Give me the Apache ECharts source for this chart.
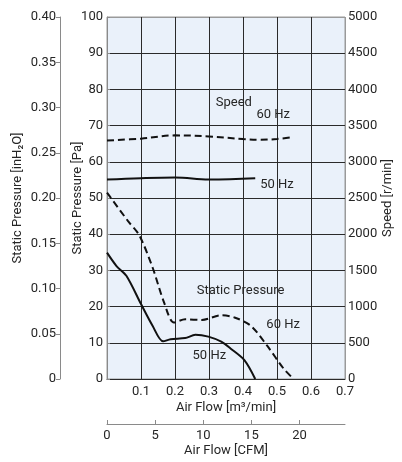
<!DOCTYPE html>
<html>
<head>
<meta charset="utf-8">
<script src="https://cdn.jsdelivr.net/npm/echarts@6/dist/echarts.min.js"></script>
<style>
html,body{margin:0;padding:0;background:#fff;}
#c{width:402px;height:462px;}
</style>
</head>
<body>
<div id="c"></div>
<script>
// Air flow in m³/min
var spd60X = [0, 0.1, 0.2, 0.3, 0.4, 0.45, 0.5, 0.545];
var spd60Y = [3295, 3320, 3365, 3350, 3315, 3305, 3315, 3340];
var spd50X = [0, 0.1, 0.2, 0.3, 0.436];
var spd50Y = [2755, 2773, 2782, 2755, 2773];
var sp60X = [0, 0.062, 0.095, 0.134, 0.168, 0.197, 0.23, 0.279, 0.336, 0.375, 0.423, 0.471, 0.52, 0.549];
var sp60Y = [51.5, 43.6, 39.7, 30.8, 21.1, 15.6, 16.5, 16.3, 17.6, 17.0, 14.7, 9.2, 2.8, 0];
var sp50X = [0, 0.028, 0.057, 0.1, 0.134, 0.165, 0.187, 0.23, 0.26, 0.298, 0.336, 0.365, 0.404, 0.436];
var sp50Y = [34.9, 31.2, 28.5, 20.7, 14.7, 10.4, 11.0, 11.3, 12.2, 11.7, 10.3, 8.3, 5.2, 0];
var cfmTicks = [0, 5, 10, 15, 20];
var annotations = [
  {text: 'Speed', x: 0.373, y: 76.3},
  {text: '60 Hz', x: 0.489, y: 73.0},
  {text: '50 Hz', x: 0.50, y: 53.7},
  {text: 'Static Pressure', x: 0.393, y: 24.5},
  {text: '60 Hz', x: 0.518, y: 14.9},
  {text: '50 Hz', x: 0.301, y: 6.3}
];

var FONT = "Roboto,'Liberation Sans',Arial,sans-serif";
var FS = 13;
var TXT = '#262626';
function zip(xs, ys){ return xs.map(function(x,i){ return [x, ys[i]]; }); }

var chart = echarts.init(document.getElementById('c'), null, {renderer:'canvas'});
var gL = 107, gT = 17, gW = 242, gH = 363;

var ySplit = []; for (var i=0;i<11;i++) ySplit.push(i===10 ? '#9a9a9a' : '#2a2a2a');
var xSplit = []; for (var j=0;j<8;j++) xSplit.push((j===0||j===7) ? '#9a9a9a' : '#2a2a2a');

var option = {
  animation: false,
  textStyle: {fontFamily: FONT},
  grid: {left: gL, top: gT, width: gW, height: gH, show: true, backgroundColor: '#eaf1fa', borderColor: '#9a9a9a', borderWidth: 1},
  xAxis: [
    {
      type: 'value', min: 0, max: 0.7, interval: 0.1, position: 'bottom',
      name: 'Air Flow [m³/min]', nameLocation: 'middle', nameGap: 22, nameMoveOverlap: false,
      nameTextStyle: {color: TXT, fontSize: FS, fontFamily: FONT},
      axisLine: {show: true, onZero: false, lineStyle: {color: '#2a2a2a', width: 1}},
      axisTick: {show: false},
      axisLabel: {color: TXT, fontSize: FS, fontFamily: FONT, margin: 6, showMinLabel: false,
        formatter: function(v){ return v === 0 ? '' : v.toFixed(1); }},
      splitLine: {show: true, lineStyle: {color: xSplit, width: 1}}
    },
    {
      type: 'value', min: 0, max: 0.7 / 0.0283168, position: 'bottom', offset: 45,
      name: 'Air Flow [CFM]', nameLocation: 'middle', nameGap: 20, nameMoveOverlap: false,
      nameTextStyle: {color: TXT, fontSize: FS, fontFamily: FONT},
      axisLine: {show: true, onZero: false, lineStyle: {color: '#8a8a8a', width: 1}},
      axisTick: {show: true, inside: true, length: 4, customValues: cfmTicks, lineStyle: {color: '#8a8a8a'}},
      axisLabel: {color: TXT, fontSize: FS, fontFamily: FONT, margin: 5, customValues: cfmTicks},
      splitLine: {show: false}
    }
  ],
  yAxis: [
    {
      type: 'value', min: 0, max: 100, interval: 10, position: 'left',
      name: 'Static Pressure [Pa]', nameLocation: 'middle', nameGap: 23, nameMoveOverlap: false,
      nameTextStyle: {color: TXT, fontSize: FS, fontFamily: FONT},
      axisLine: {show: false}, axisTick: {show: false},
      axisLabel: {color: TXT, fontSize: FS, fontFamily: FONT, margin: 4},
      splitLine: {show: true, lineStyle: {color: ySplit, width: 1}}
    },
    {
      type: 'value', min: 0, max: 5000, interval: 500, position: 'right',
      name: 'Speed [r/min]', nameLocation: 'middle', nameGap: 36, nameMoveOverlap: false,
      nameTextStyle: {color: TXT, fontSize: FS, fontFamily: FONT},
      axisLine: {show: true, lineStyle: {color: '#8a8a8a'}},
      axisTick: {show: true, length: 3, lineStyle: {color: '#8a8a8a'}},
      axisLabel: {color: TXT, fontSize: FS, fontFamily: FONT, margin: 3,
        formatter: function(v){ return String(v); }},
      splitLine: {show: false}
    },
    {
      type: 'value', min: 0, max: 0.4, interval: 0.05, position: 'left', offset: 47,
      name: 'Static Pressure [inH₂O]', nameLocation: 'middle', nameGap: 36, nameMoveOverlap: false,
      nameTextStyle: {color: TXT, fontSize: FS, fontFamily: FONT},
      axisLine: {show: true, lineStyle: {color: '#8a8a8a'}},
      axisTick: {show: true, length: 4, lineStyle: {color: '#8a8a8a'}},
      axisLabel: {color: TXT, fontSize: FS, fontFamily: FONT, margin: 4,
        formatter: function(v){ return v === 0 ? '0' : v.toFixed(2); }},
      splitLine: {show: false}
    }
  ],
  series: [
    {type: 'line', name: 'Speed 60 Hz', xAxisIndex: 0, yAxisIndex: 1, data: zip(spd60X, spd60Y), smooth: 0.4, showSymbol: false,
      lineStyle: {color: '#111', width: 2, type: [7, 4]}},
    {type: 'line', name: 'Speed 50 Hz', xAxisIndex: 0, yAxisIndex: 1, data: zip(spd50X, spd50Y), smooth: 0.4, showSymbol: false,
      lineStyle: {color: '#111', width: 2}},
    {type: 'line', name: 'SP 60 Hz', xAxisIndex: 0, yAxisIndex: 0, data: zip(sp60X, sp60Y), smooth: 0.3, showSymbol: false,
      lineStyle: {color: '#111', width: 2, type: [7, 4]}},
    {type: 'line', name: 'SP 50 Hz', xAxisIndex: 0, yAxisIndex: 0, data: zip(sp50X, sp50Y), smooth: 0.3, showSymbol: false,
      lineStyle: {color: '#111', width: 2}},
    {type: 'scatter', xAxisIndex: 0, yAxisIndex: 0, symbolSize: 0, silent: true,
      itemStyle: {opacity: 1},
      data: annotations.map(function(a){ return {value: [a.x, a.y], label: {formatter: a.text}}; }),
      label: {show: true, position: 'inside', color: TXT, fontSize: FS, fontFamily: FONT}}
  ]
};
chart.setOption(option);
</script>
</body>
</html>
